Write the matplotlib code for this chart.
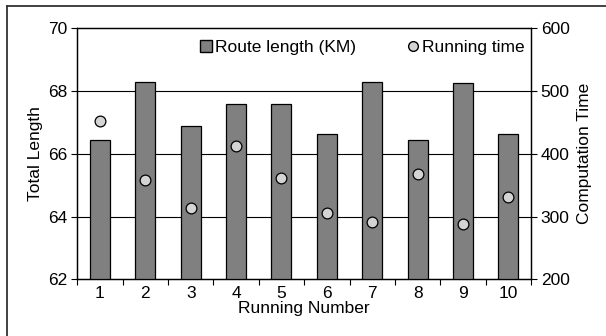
import matplotlib.pyplot as plt
import numpy as np
from matplotlib.lines import Line2D

runs = [1, 2, 3, 4, 5, 6, 7, 8, 9, 10]
route_length = [66.45, 68.28, 66.88, 67.58, 67.58, 66.62, 68.28, 66.45, 68.27, 66.62]
running_time = [453, 359, 314, 413, 361, 305, 291, 368, 288, 331]

plt.rcParams['font.family'] = ['Liberation Sans', 'DejaVu Sans']
plt.rcParams['font.size'] = 12.5

fig = plt.figure(figsize=(6.06, 3.36), dpi=100)
W, H = 606, 336
ax = fig.add_axes([77.3 / W, 1 - 279.3 / H, (531 - 77.3) / W, (279.3 - 28.3) / H])

# outer frame (left and top edges only visible)
fx, fy = 6.5 / W, 1 - 5.5 / H
fig.add_artist(Line2D([fx, fx], [0, fy], transform=fig.transFigure, color='#333333', linewidth=1.3))
fig.add_artist(Line2D([fx, 1], [fy, fy], transform=fig.transFigure, color='#333333', linewidth=1.3))

x = np.array(runs)
ax.bar(x, route_length, width=0.44, color='#808080', edgecolor='black', linewidth=0.9, zorder=3)
ax.set_xlim(0.5, 10.5)
ax.set_ylim(62, 70)
ax.set_yticks([62, 64, 66, 68, 70])
ax.set_xticks(np.arange(0.5, 11, 1))
ax.set_xticklabels([])
ax.set_xticks(x, minor=True)
ax.set_xticklabels([str(r) for r in runs], minor=True)
ax.tick_params(axis='x', which='minor', length=0, pad=5)
ax.tick_params(axis='x', which='major', length=4, direction='out')
ax.tick_params(axis='y', length=4, direction='out', pad=3)
for yv in [64, 66, 68]:
    ax.axhline(yv, color='black', linewidth=0.8, zorder=1)
for s in ax.spines.values():
    s.set_linewidth(0.9)
ax.set_ylabel('Total Length', labelpad=4)
ax.set_xlabel('Running Number', labelpad=0)

ax2 = ax.twinx()
ax2.scatter(x, running_time, s=60, color='#d4d4d4', edgecolor='black', linewidth=0.9, zorder=4)
ax2.set_ylim(200, 600)
ax2.set_yticks([200, 300, 400, 500, 600])
ax2.tick_params(axis='y', length=4, direction='out', pad=3)
ax2.set_ylabel('Computation Time', rotation=90, labelpad=5)
for s in ax2.spines.values():
    s.set_linewidth(0.9)

handles = [
    Line2D([], [], marker='s', linestyle='', markersize=8, markerfacecolor='#808080', markeredgecolor='black'),
    Line2D([], [], marker='o', linestyle='', markersize=7, markerfacecolor='#d4d4d4', markeredgecolor='black'),
]
ax2.legend(handles, ['Route length (KM)', 'Running time'], loc='upper left', bbox_to_anchor=(0.24, 1.0),
           ncol=2, frameon=False, handletextpad=0.0, columnspacing=2.8, handlelength=1.0, borderaxespad=0.25)

fig.savefig('out.png', dpi=100)
